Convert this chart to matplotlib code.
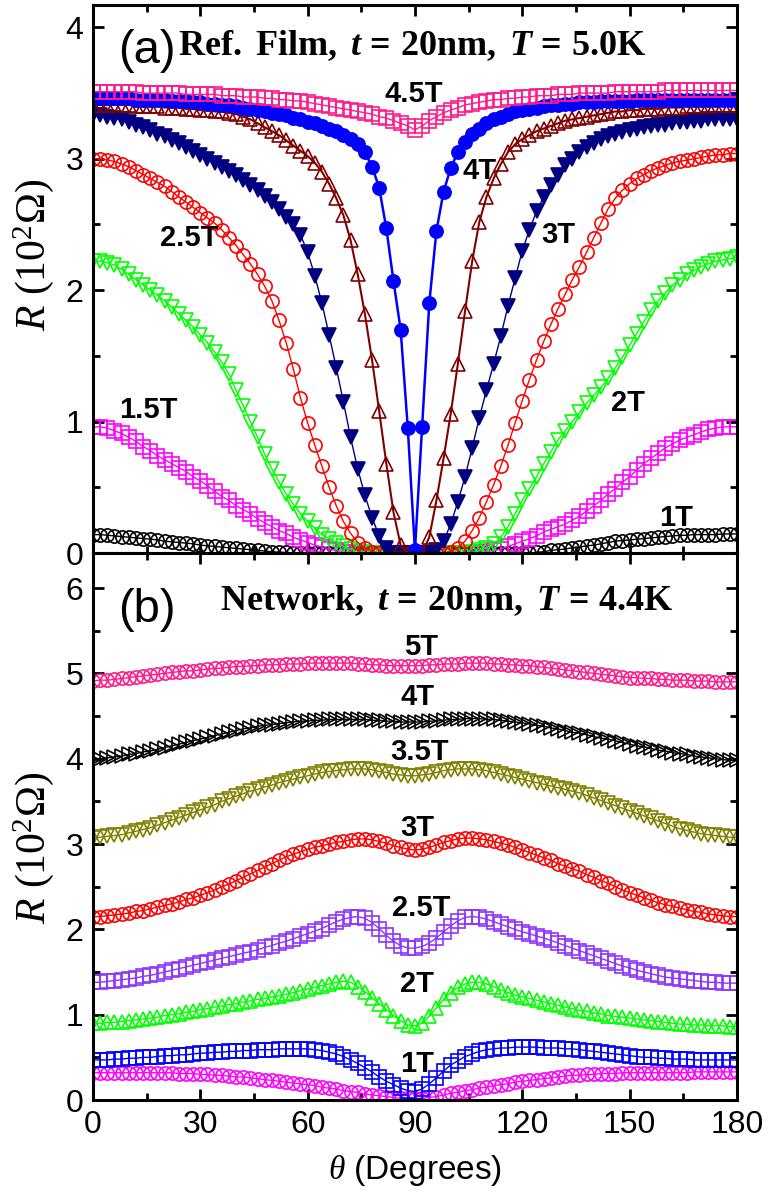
import numpy as np
import matplotlib
matplotlib.use("Agg")
import matplotlib.pyplot as plt
from matplotlib.ticker import MultipleLocator

plt.rcParams["font.family"] = ["Liberation Sans", "DejaVu Sans"]
plt.rcParams["mathtext.fontset"] = "custom"
plt.rcParams["mathtext.rm"] = "Liberation Serif"
plt.rcParams["mathtext.it"] = "Liberation Serif:italic"
plt.rcParams["mathtext.bf"] = "Liberation Serif:bold"
plt.rcParams["mathtext.bfit"] = "Liberation Serif:italic:bold"

# angle grid, 2 degree steps
theta = np.arange(0, 181, 2)

# ---- panel (a): reference film, R in 10^2 Ohm ----
a_1t = [0.14, 0.14, 0.135, 0.13, 0.125, 0.12, 0.115, 0.11, 0.105, 0.10,
        0.09, 0.085, 0.08, 0.075, 0.07, 0.06, 0.055, 0.05, 0.045, 0.04,
        0.035, 0.03, 0.025, 0.02, 0.015, 0.01, 0.007, 0.004, 0.002, 0,
        0, 0, 0, 0, 0, 0, 0, 0, 0, 0,
        0, 0, 0, 0, 0, 0, 0, 0, 0, 0,
        0, 0, 0, 0, 0, 0, 0, 0, 0, 0,
        0, 0, 0.005, 0.01, 0.02, 0.025, 0.03, 0.04, 0.045, 0.055,
        0.06, 0.07, 0.08, 0.09, 0.095, 0.10, 0.105, 0.11, 0.115, 0.12,
        0.125, 0.13, 0.135, 0.135, 0.14, 0.14, 0.14, 0.14, 0.145, 0.145,
        0.145]
a_15t = [0.96, 0.96, 0.95, 0.93, 0.91, 0.88, 0.85, 0.81, 0.78, 0.74,
         0.71, 0.68, 0.65, 0.62, 0.58, 0.55, 0.51, 0.47, 0.43, 0.40,
         0.36, 0.33, 0.30, 0.26, 0.23, 0.20, 0.17, 0.15, 0.12, 0.10,
         0.08, 0.06, 0.045, 0.03, 0.02, 0.01, 0.005, 0, 0, 0,
         0, 0, 0, 0, 0, 0, 0, 0, 0, 0,
         0, 0, 0, 0, 0.005, 0.01, 0.02, 0.03, 0.05, 0.07,
         0.09, 0.11, 0.13, 0.16, 0.18, 0.20, 0.22, 0.25, 0.28, 0.32,
         0.36, 0.40, 0.45, 0.49, 0.54, 0.58, 0.63, 0.68, 0.72, 0.76,
         0.80, 0.83, 0.86, 0.88, 0.90, 0.92, 0.94, 0.95, 0.96, 0.96,
         0.96]
a_2t = [2.22, 2.22, 2.21, 2.19, 2.16, 2.12, 2.08, 2.04, 2.00, 1.96,
        1.92, 1.87, 1.82, 1.77, 1.72, 1.66, 1.60, 1.53, 1.45, 1.36,
        1.24, 1.12, 1.00, 0.88, 0.75, 0.64, 0.54, 0.45, 0.37, 0.30,
        0.24, 0.19, 0.14, 0.11, 0.08, 0.05, 0.03, 0.015, 0.005, 0,
        0, 0, 0, 0, 0, 0, 0, 0, 0, 0,
        0, 0, 0, 0.005, 0.02, 0.04, 0.07, 0.12, 0.20, 0.30,
        0.40, 0.49, 0.58, 0.68, 0.77, 0.86, 0.93, 1.00, 1.07, 1.14,
        1.20, 1.26, 1.33, 1.41, 1.49, 1.58, 1.67, 1.76, 1.85, 1.92,
        1.98, 2.04, 2.08, 2.12, 2.15, 2.18, 2.20, 2.22, 2.23, 2.24,
        2.25]
a_25t = [3.00, 3.00, 2.99, 2.98, 2.96, 2.94, 2.91, 2.88, 2.85, 2.82,
         2.79, 2.75, 2.71, 2.67, 2.63, 2.59, 2.55, 2.51, 2.46, 2.40,
         2.34, 2.27, 2.20, 2.12, 2.03, 1.92, 1.77, 1.60, 1.40, 1.18,
         0.99, 0.82, 0.66, 0.50, 0.36, 0.24, 0.15, 0.08, 0.04, 0.01,
         0, 0, 0, 0, 0, 0, 0, 0, 0, 0,
         0.01, 0.04, 0.09, 0.17, 0.27, 0.39, 0.52, 0.66, 0.82, 0.99,
         1.16, 1.32, 1.47, 1.61, 1.74, 1.86, 1.97, 2.08, 2.18, 2.29,
         2.40, 2.51, 2.62, 2.70, 2.76, 2.81, 2.85, 2.88, 2.91, 2.93,
         2.95, 2.97, 2.98, 2.99, 3.00, 3.01, 3.02, 3.03, 3.03, 3.04,
         3.04]
a_3t = [3.33, 3.33, 3.32, 3.31, 3.30, 3.28, 3.26, 3.24, 3.22, 3.19,
        3.17, 3.14, 3.12, 3.09, 3.06, 3.03, 3.00, 2.97, 2.94, 2.91,
        2.88, 2.84, 2.80, 2.76, 2.72, 2.67, 2.62, 2.56, 2.50, 2.42,
        2.29, 2.11, 1.90, 1.66, 1.41, 1.15, 0.88, 0.64, 0.44, 0.27,
        0.13, 0.04, 0, 0, 0, 0, 0, 0, 0.02, 0.09,
        0.22, 0.39, 0.58, 0.80, 1.03, 1.24, 1.44, 1.65, 1.88, 2.09,
        2.30, 2.46, 2.60, 2.71, 2.80, 2.88, 2.95, 3.00, 3.05, 3.09,
        3.12, 3.15, 3.17, 3.19, 3.20, 3.22, 3.23, 3.24, 3.25, 3.26,
        3.26, 3.27, 3.28, 3.28, 3.29, 3.29, 3.30, 3.30, 3.30, 3.30,
        3.30]
a_35t = [3.41, 3.41, 3.41, 3.41, 3.41, 3.41, 3.40, 3.40, 3.40, 3.40,
         3.39, 3.39, 3.39, 3.38, 3.38, 3.37, 3.37, 3.36, 3.36, 3.35,
         3.34, 3.32, 3.30, 3.27, 3.24, 3.21, 3.18, 3.14, 3.10, 3.06,
         3.02, 2.97, 2.90, 2.81, 2.70, 2.57, 2.38, 2.12, 1.82, 1.47,
         1.08, 0.68, 0.31, 0.06, 0, 0, 0, 0.12, 0.40, 0.72,
         1.06, 1.44, 1.84, 2.22, 2.52, 2.71, 2.85, 2.96, 3.05, 3.11,
         3.15, 3.18, 3.21, 3.23, 3.25, 3.27, 3.29, 3.30, 3.31, 3.32,
         3.33, 3.34, 3.35, 3.36, 3.36, 3.37, 3.37, 3.38, 3.38, 3.38,
         3.39, 3.39, 3.39, 3.40, 3.40, 3.40, 3.40, 3.41, 3.41, 3.41,
         3.41]
a_4t = [3.46, 3.46, 3.46, 3.46, 3.46, 3.46, 3.45, 3.45, 3.45, 3.45,
        3.45, 3.44, 3.44, 3.44, 3.43, 3.43, 3.42, 3.42, 3.41, 3.41,
        3.40, 3.39, 3.38, 3.37, 3.36, 3.35, 3.34, 3.33, 3.31, 3.30,
        3.28, 3.27, 3.25, 3.23, 3.21, 3.18, 3.15, 3.11, 3.05, 2.94,
        2.78, 2.47, 2.07, 1.70, 0.95, 0.02, 0.96, 1.90, 2.45, 2.75,
        2.93, 3.05, 3.13, 3.19, 3.23, 3.27, 3.30, 3.32, 3.34, 3.36,
        3.37, 3.38, 3.39, 3.40, 3.41, 3.41, 3.42, 3.42, 3.43, 3.43,
        3.43, 3.44, 3.44, 3.44, 3.44, 3.44, 3.45, 3.45, 3.45, 3.45,
        3.45, 3.45, 3.45, 3.45, 3.45, 3.45, 3.45, 3.45, 3.45, 3.45,
        3.45]
a_45t = [3.51, 3.51, 3.51, 3.51, 3.51, 3.51, 3.51, 3.50, 3.50, 3.50,
         3.50, 3.50, 3.50, 3.49, 3.49, 3.49, 3.49, 3.49, 3.48, 3.48,
         3.48, 3.47, 3.47, 3.47, 3.46, 3.46, 3.45, 3.45, 3.44, 3.44,
         3.43, 3.42, 3.41, 3.40, 3.39, 3.38, 3.37, 3.36, 3.35, 3.34,
         3.32, 3.31, 3.29, 3.27, 3.25, 3.22, 3.25, 3.29, 3.32, 3.35,
         3.37, 3.39, 3.41, 3.42, 3.43, 3.44, 3.45, 3.45, 3.46, 3.46,
         3.47, 3.47, 3.48, 3.48, 3.48, 3.49, 3.49, 3.49, 3.50, 3.50,
         3.50, 3.50, 3.50, 3.51, 3.51, 3.51, 3.51, 3.51, 3.51, 3.51,
         3.52, 3.52, 3.52, 3.52, 3.52, 3.52, 3.52, 3.52, 3.52, 3.52,
         3.52]

# ---- panel (b): network ----
b_5t = [4.91, 4.92, 4.92, 4.93, 4.94, 4.95, 4.96, 4.97, 4.98, 4.99,
        5.00, 5.01, 5.02, 5.03, 5.03, 5.04, 5.05, 5.06, 5.06, 5.07,
        5.08, 5.08, 5.09, 5.09, 5.10, 5.10, 5.10, 5.11, 5.11, 5.11,
        5.12, 5.12, 5.12, 5.12, 5.12, 5.12, 5.12, 5.11, 5.11, 5.10,
        5.10, 5.09, 5.09, 5.09, 5.09, 5.09, 5.09, 5.10, 5.10, 5.11,
        5.11, 5.11, 5.12, 5.12, 5.12, 5.12, 5.11, 5.11, 5.10, 5.10,
        5.09, 5.09, 5.08, 5.07, 5.06, 5.05, 5.04, 5.03, 5.02, 5.01,
        5.00, 4.99, 4.98, 4.97, 4.96, 4.95, 4.95, 4.94, 4.94, 4.93,
        4.93, 4.92, 4.92, 4.92, 4.91, 4.91, 4.91, 4.90, 4.90, 4.90,
        4.90]
b_4t = [3.99, 4.00, 4.01, 4.02, 4.03, 4.05, 4.06, 4.08, 4.09, 4.11,
        4.13, 4.15, 4.17, 4.19, 4.21, 4.23, 4.25, 4.27, 4.29, 4.31,
        4.33, 4.35, 4.36, 4.38, 4.39, 4.40, 4.41, 4.42, 4.43, 4.44,
        4.44, 4.45, 4.45, 4.46, 4.46, 4.46, 4.46, 4.46, 4.46, 4.45,
        4.45, 4.44, 4.44, 4.43, 4.43, 4.43, 4.43, 4.44, 4.44, 4.45,
        4.46, 4.46, 4.47, 4.47, 4.47, 4.46, 4.46, 4.45, 4.44, 4.43,
        4.42, 4.41, 4.39, 4.38, 4.36, 4.35, 4.33, 4.31, 4.30, 4.28,
        4.26, 4.24, 4.23, 4.21, 4.19, 4.17, 4.15, 4.14, 4.12, 4.10,
        4.09, 4.07, 4.06, 4.05, 4.03, 4.02, 4.01, 4.00, 3.99, 3.98,
        3.98]
b_35t = [3.07, 3.08, 3.09, 3.10, 3.11, 3.13, 3.15, 3.17, 3.19, 3.22,
         3.25, 3.28, 3.31, 3.34, 3.37, 3.40, 3.43, 3.46, 3.50, 3.53,
         3.56, 3.59, 3.62, 3.64, 3.67, 3.69, 3.72, 3.74, 3.76, 3.78,
         3.80, 3.82, 3.84, 3.85, 3.86, 3.87, 3.88, 3.88, 3.88, 3.87,
         3.85, 3.84, 3.82, 3.81, 3.80, 3.80, 3.81, 3.82, 3.84, 3.86,
         3.87, 3.88, 3.88, 3.88, 3.87, 3.86, 3.84, 3.82, 3.80, 3.78,
         3.76, 3.74, 3.72, 3.70, 3.68, 3.66, 3.64, 3.62, 3.60, 3.57,
         3.54, 3.51, 3.48, 3.45, 3.42, 3.39, 3.36, 3.33, 3.30, 3.27,
         3.24, 3.21, 3.18, 3.16, 3.14, 3.12, 3.11, 3.10, 3.09, 3.08,
         3.08]
b_3t = [2.15, 2.15, 2.16, 2.17, 2.18, 2.19, 2.21, 2.22, 2.24, 2.26,
        2.28, 2.30, 2.32, 2.35, 2.37, 2.40, 2.43, 2.46, 2.50, 2.53,
        2.57, 2.61, 2.65, 2.69, 2.73, 2.77, 2.81, 2.85, 2.88, 2.91,
        2.94, 2.96, 2.98, 3.00, 3.02, 3.03, 3.05, 3.06, 3.06, 3.05,
        3.03, 3.01, 2.98, 2.96, 2.94, 2.93, 2.94, 2.96, 2.99, 3.02,
        3.04, 3.06, 3.07, 3.07, 3.06, 3.05, 3.03, 3.01, 2.99, 2.96,
        2.93, 2.90, 2.87, 2.84, 2.81, 2.77, 2.74, 2.71, 2.68, 2.64,
        2.61, 2.57, 2.54, 2.50, 2.46, 2.43, 2.40, 2.37, 2.34, 2.31,
        2.29, 2.27, 2.25, 2.23, 2.21, 2.20, 2.18, 2.17, 2.16, 2.15,
        2.15]
b_25t = [1.38, 1.38, 1.39, 1.40, 1.41, 1.42, 1.43, 1.45, 1.46, 1.48,
         1.50, 1.52, 1.54, 1.56, 1.58, 1.60, 1.62, 1.64, 1.66, 1.68,
         1.70, 1.72, 1.74, 1.76, 1.79, 1.81, 1.84, 1.86, 1.89, 1.92,
         1.95, 1.98, 2.01, 2.05, 2.09, 2.12, 2.14, 2.15, 2.13, 2.08,
         2.01, 1.93, 1.86, 1.81, 1.78, 1.78, 1.80, 1.84, 1.90, 1.97,
         2.04, 2.10, 2.14, 2.15, 2.14, 2.12, 2.09, 2.06, 2.03, 2.00,
         1.97, 1.95, 1.92, 1.90, 1.87, 1.84, 1.81, 1.78, 1.75, 1.72,
         1.69, 1.66, 1.63, 1.60, 1.57, 1.55, 1.52, 1.50, 1.48, 1.46,
         1.44, 1.43, 1.42, 1.41, 1.40, 1.39, 1.38, 1.38, 1.37, 1.37,
         1.37]
b_2t = [0.90, 0.90, 0.91, 0.91, 0.92, 0.93, 0.94, 0.95, 0.96, 0.97,
        0.99, 1.00, 1.01, 1.03, 1.04, 1.06, 1.07, 1.09, 1.10, 1.12,
        1.13, 1.15, 1.16, 1.18, 1.19, 1.21, 1.22, 1.24, 1.26, 1.28,
        1.30, 1.32, 1.34, 1.36, 1.38, 1.39, 1.38, 1.33, 1.27, 1.20,
        1.13, 1.06, 0.99, 0.93, 0.88, 0.87, 0.90, 0.98, 1.08, 1.18,
        1.26, 1.32, 1.36, 1.38, 1.38, 1.36, 1.33, 1.29, 1.26, 1.23,
        1.21, 1.19, 1.17, 1.15, 1.13, 1.11, 1.09, 1.07, 1.05, 1.04,
        1.02, 1.01, 0.99, 0.98, 0.97, 0.96, 0.95, 0.94, 0.93, 0.92,
        0.91, 0.90, 0.89, 0.89, 0.88, 0.88, 0.87, 0.87, 0.87, 0.86,
        0.86]
b_1t = [0.47, 0.47, 0.47, 0.48, 0.48, 0.49, 0.49, 0.50, 0.50, 0.51,
        0.52, 0.52, 0.53, 0.53, 0.54, 0.55, 0.55, 0.56, 0.56, 0.57,
        0.57, 0.58, 0.58, 0.59, 0.59, 0.59, 0.60, 0.60, 0.60, 0.60,
        0.60, 0.59, 0.58, 0.56, 0.54, 0.51, 0.47, 0.43, 0.38, 0.33,
        0.27, 0.22, 0.18, 0.14, 0.11, 0.10, 0.13, 0.19, 0.26, 0.34,
        0.41, 0.46, 0.51, 0.54, 0.57, 0.59, 0.60, 0.61, 0.61, 0.62,
        0.62, 0.62, 0.62, 0.61, 0.61, 0.61, 0.60, 0.60, 0.59, 0.58,
        0.57, 0.56, 0.55, 0.54, 0.53, 0.52, 0.51, 0.50, 0.50, 0.49,
        0.49, 0.48, 0.48, 0.48, 0.47, 0.47, 0.47, 0.47, 0.47, 0.47,
        0.47]
b_0t = [0.32, 0.32, 0.32, 0.32, 0.32, 0.32, 0.32, 0.32, 0.32, 0.32,
        0.32, 0.32, 0.31, 0.31, 0.31, 0.30, 0.30, 0.29, 0.29, 0.28,
        0.27, 0.27, 0.26, 0.25, 0.24, 0.23, 0.22, 0.21, 0.20, 0.19,
        0.18, 0.17, 0.15, 0.14, 0.13, 0.11, 0.10, 0.09, 0.07, 0.06,
        0.05, 0.04, 0.03, 0.02, 0.02, 0.02, 0.02, 0.03, 0.04, 0.06,
        0.08, 0.09, 0.11, 0.12, 0.14, 0.15, 0.17, 0.18, 0.19, 0.21,
        0.22, 0.23, 0.24, 0.25, 0.26, 0.27, 0.28, 0.29, 0.29, 0.30,
        0.30, 0.31, 0.31, 0.31, 0.32, 0.32, 0.32, 0.32, 0.32, 0.32,
        0.32, 0.32, 0.32, 0.32, 0.33, 0.33, 0.33, 0.33, 0.33, 0.33,
        0.33]


def draw(ax, y, marker, color, filled=False, lw=1.0):
    ax.plot(theta, y, color=color, lw=lw, marker=marker, ms=9.5,
            mfc=color if filled else "none", mec=color, mew=1.2)


fig = plt.figure(figsize=(7.72, 11.97), dpi=100)
ax_a = fig.add_axes([0.1205, 0.538, 0.834, 0.4578])
ax_b = fig.add_axes([0.1205, 0.081, 0.834, 0.457])

pink = "#ff1a8c"
draw(ax_a, a_1t, "o", "black")
draw(ax_a, a_15t, "s", "#ff00ff")
draw(ax_a, a_2t, "v", "#00ff00")
draw(ax_a, a_25t, "o", "#ff0000")
draw(ax_a, a_3t, "v", "#000080", filled=True)
draw(ax_a, a_35t, "^", "#800000", lw=1.5)
draw(ax_a, a_4t, "o", "#0000ff", filled=True, lw=1.8)
draw(ax_a, a_45t, "s", pink)

draw(ax_b, b_0t, "o", "#ff00ff")
draw(ax_b, b_1t, "s", "#0000ff")
draw(ax_b, b_2t, "^", "#00ff00")
draw(ax_b, b_25t, "s", "#8f33ff")
draw(ax_b, b_3t, "o", "#ff0000")
draw(ax_b, b_35t, "v", "#808000")
draw(ax_b, b_4t, ">", "black")
draw(ax_b, b_5t, "o", pink)

lab = dict(fontsize=21, fontweight="bold", ha="center", va="center")
ax_a.text(89.7, 3.49, "4.5T", **lab)
ax_a.text(108.2, 2.91, "4T", **lab)
ax_a.text(130, 2.42, "3T", **lab)
ax_a.text(26.8, 2.40, "2.5T", **lab)
ax_a.text(15.4, 1.09, "1.5T", **lab)
ax_a.text(149.6, 1.14, "2T", **lab)
ax_a.text(163, 0.27, "1T", **lab)

ax_b.text(91.7, 5.31, "5T", **lab)
ax_b.text(90.6, 4.72, "4T", **lab)
ax_b.text(91.4, 4.08, "3.5T", **lab)
ax_b.text(90.8, 3.19, "3T", **lab)
ax_b.text(91.7, 2.25, "2.5T", **lab)
ax_b.text(90.6, 1.36, "2T", **lab)
ax_b.text(90.6, 0.42, "1T", **lab)

ax_a.text(7.0, 3.73, "(a)", fontsize=34, ha="left", va="baseline")
ax_b.text(7.0, 5.60, "(b)", fontsize=34, ha="left", va="baseline")
ax_a.text(23.8, 3.79,
          r"$\mathbf{Ref.\ Film,}\ \mathbfit{t}\,\mathbf{=}\,\mathbf{20nm,}\ "
          r"\mathbfit{T}\,\mathbf{=}\,\mathbf{5.0K}$",
          fontsize=26, ha="left", va="baseline")
ax_b.text(35.5, 5.74,
          r"$\mathbf{Network,}\ \mathbfit{t}\,\mathbf{=}\,\mathbf{20nm,}\ "
          r"\mathbfit{T}\,\mathbf{=}\,\mathbf{4.4K}$",
          fontsize=26, ha="left", va="baseline")

for ax in (ax_a, ax_b):
    ax.set_xlim(0, 180)
    ax.xaxis.set_major_locator(MultipleLocator(30))
    ax.xaxis.set_minor_locator(MultipleLocator(15))
    ax.yaxis.set_major_locator(MultipleLocator(1))
    ax.yaxis.set_minor_locator(MultipleLocator(0.5))
    ax.tick_params(which="both", direction="in", top=True, right=True,
                   width=2.0, labelsize=23)
    ax.tick_params(which="major", length=8, pad=7)
    ax.tick_params(which="minor", length=5)
    for sp in ax.spines.values():
        sp.set_linewidth(2.2)
    ax.set_ylabel(r"$R$ (10$^2$Ω)", fontsize=30, family="Liberation Serif",
                  va="center")

ax_a.set_ylim(0, 4.17)
ax_b.set_ylim(0, 6.41)
ax_a.tick_params(labelbottom=False)
ax_a.yaxis.set_label_coords(-0.093, 0.544)
ax_b.yaxis.set_label_coords(-0.093, 0.461)

ax_b.set_xlabel(r"$\theta$ (Degrees)", fontsize=24, va="center")
ax_b.xaxis.set_label_coords(0.5, -0.128)

fig.savefig("out.png", dpi=100)
